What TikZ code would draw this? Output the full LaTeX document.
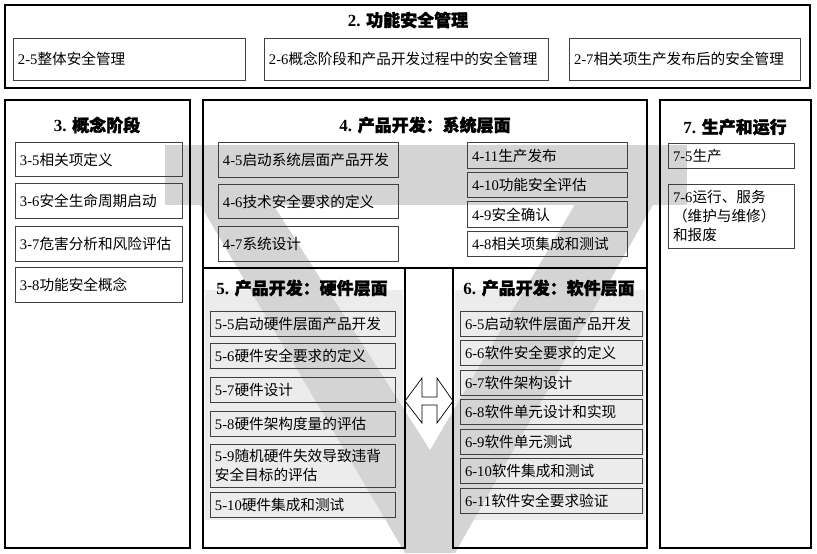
\documentclass[tikz,border=0pt]{standalone}
\usepackage{fontspec}
\setmainfont{Liberation Serif}
\newfontfamily\cjk{Noto Sans CJK SC}
\newfontfamily\cjkbf[FakeBold=1.8]{Noto Sans CJK SC}
\usepackage{tikz}
\definecolor{vgray}{RGB}{212,212,212}
\definecolor{vlight}{RGB}{236,236,236}

\begin{document}
\begin{tikzpicture}[x=0.03cm, y=-0.03cm,
  panel/.style={draw, line width=1.6pt, inner sep=0pt},
  box/.style={draw=black!75, line width=0.7pt, inner xsep=0.15cm, inner ysep=0pt, align=left, font=\fontsize{12.5}{16}\selectfont},
  ttl/.style={font=\fontsize{14.5}{16}\selectfont\bfseries},
  col3/.style={box, text width=4.71cm, minimum height=1.03cm},
  col4l/.style={box, text width=5.1cm, minimum height=1.03cm},
  col4r/.style={box, text width=4.5cm, minimum height=0.77cm},
  col5/.style={box, text width=5.25cm, minimum height=0.75cm},
  col6/.style={box, text width=5.16cm, minimum height=0.75cm}]

\useasboundingbox (0,0) rectangle (817,553);

\fill[vlight] (205,290) rectangle (403,520);
\fill[vlight] (455,290) rectangle (645,520);
\fill[vgray] (165,145) rectangle (687,205);
\fill[vgray] (165,145) -- (235,145) -- (430,450) -- (610,145) -- (687,145) -- (455,553) -- (405,553) -- cycle;

\node[panel, minimum width=24.15cm, minimum height=2.49cm] (s2) at (407.5,46.5) {};
\node[ttl] (t2) at (408,20) {2. \cjkbf 功能安全管理};
\node[box, text width=6.66cm, minimum height=1.26cm] (b25) at (129,59) {2-5\cjk 整体安全管理};
\node[box, text width=8.22cm, minimum height=1.26cm] (b26) at (406,59) {2-6\cjk 概念阶段和产品开发过程中的安全管理};
\node[box, text width=6.63cm, minimum height=1.26cm] (b27) at (684.5,59) {2-7\cjk 相关项生产发布后的安全管理};

\node[panel, minimum width=5.55cm, minimum height=13.44cm] (s3) at (97.5,324) {};
\node[ttl] (t3) at (97,125) {3. \cjkbf 概念阶段};
\node[col3] (b35) at (98.5,159.5) {3-5\cjk 相关项定义};
\node[col3] (b36) at (98.5,201) {3-6\cjk 安全生命周期启动};
\node[col3] (b37) at (98.5,244) {3-7\cjk 危害分析和风险评估};
\node[col3] (b38) at (98.5,285) {3-8\cjk 功能安全概念};

\node[panel, minimum width=13.32cm, minimum height=5.04cm] (s4) at (425,184) {};
\node[ttl] (t4) at (425,125) {4. \cjkbf 产品开发：系统层面};
\node[col4l] (b45) at (308,160) {4-5\cjk 启动系统层面产品开发};
\node[col4l] (b46) at (308,201.5) {4-6\cjk 技术安全要求的定义};
\node[col4l] (b47) at (308,244) {4-7\cjk 系统设计};
\node[col4r] (b411) at (547,155.5) {4-11\cjk 生产发布};
\node[col4r] (b410) at (547,185) {4-10\cjk 功能安全评估};
\node[col4r] (b49) at (547,214.5) {4-9\cjk 安全确认};
\node[col4r] (b48) at (547,244) {4-8\cjk 相关项集成和测试};

\node[panel, minimum width=6.06cm, minimum height=8.4cm] (s5) at (304,408) {};
\node[ttl] (t5) at (302,288) {5. \cjkbf 产品开发：硬件层面};
\node[col5] (b55) at (302.5,324) {5-5\cjk 启动硬件层面产品开发};
\node[col5] (b56) at (302.5,355.5) {5-6\cjk 硬件安全要求的定义};
\node[col5] (b57) at (302.5,390) {5-7\cjk 硬件设计};
\node[col5] (b58) at (302.5,424) {5-8\cjk 硬件架构度量的评估};
\node[col5, minimum height=1.29cm] (b59) at (302.5,465.5) {5-9\cjk 随机硬件失效导致违背\\安全目标的评估};
\node[col5] (b510) at (302.5,504.5) {5-10\cjk 硬件集成和测试};

\node[panel, minimum width=5.82cm, minimum height=8.4cm] (s6) at (550,408) {};
\node[ttl] (t6) at (549,288) {6. \cjkbf 产品开发：软件层面};
\node[col6] (b65) at (551,324) {6-5\cjk 启动软件层面产品开发};
\node[col6] (b66) at (551,352.5) {6-6\cjk 软件安全要求的定义};
\node[col6] (b67) at (551,382.5) {6-7\cjk 软件架构设计};
\node[col6] (b68) at (551,412) {6-8\cjk 软件单元设计和实现};
\node[col6] (b69) at (551,441.5) {6-9\cjk 软件单元测试};
\node[col6] (b610) at (551,471) {6-10\cjk 软件集成和测试};
\node[col6] (b611) at (551,500.5) {6-11\cjk 软件安全要求验证};

\draw[fill=white, line width=0.6pt] (405,401) -- (422,378) -- (422,397) -- (437,397) -- (437,378) -- (453,401) -- (437,423) -- (437,405) -- (422,405) -- (422,423) -- cycle;

\node[panel, minimum width=4.53cm, minimum height=13.44cm] (s7) at (735.5,324) {};
\node[ttl] (t7) at (735,127) {7. \cjkbf 生产和运行};
\node[box, text width=3.48cm, minimum height=0.75cm] (b75) at (731,155.5) {7-5\cjk 生产};
\node[box, text width=3.48cm, minimum height=1.92cm] (b76) at (731,216) {7-6\cjk 运行、服务\\（维护与维修）\\和报废};

\end{tikzpicture}
\end{document}
